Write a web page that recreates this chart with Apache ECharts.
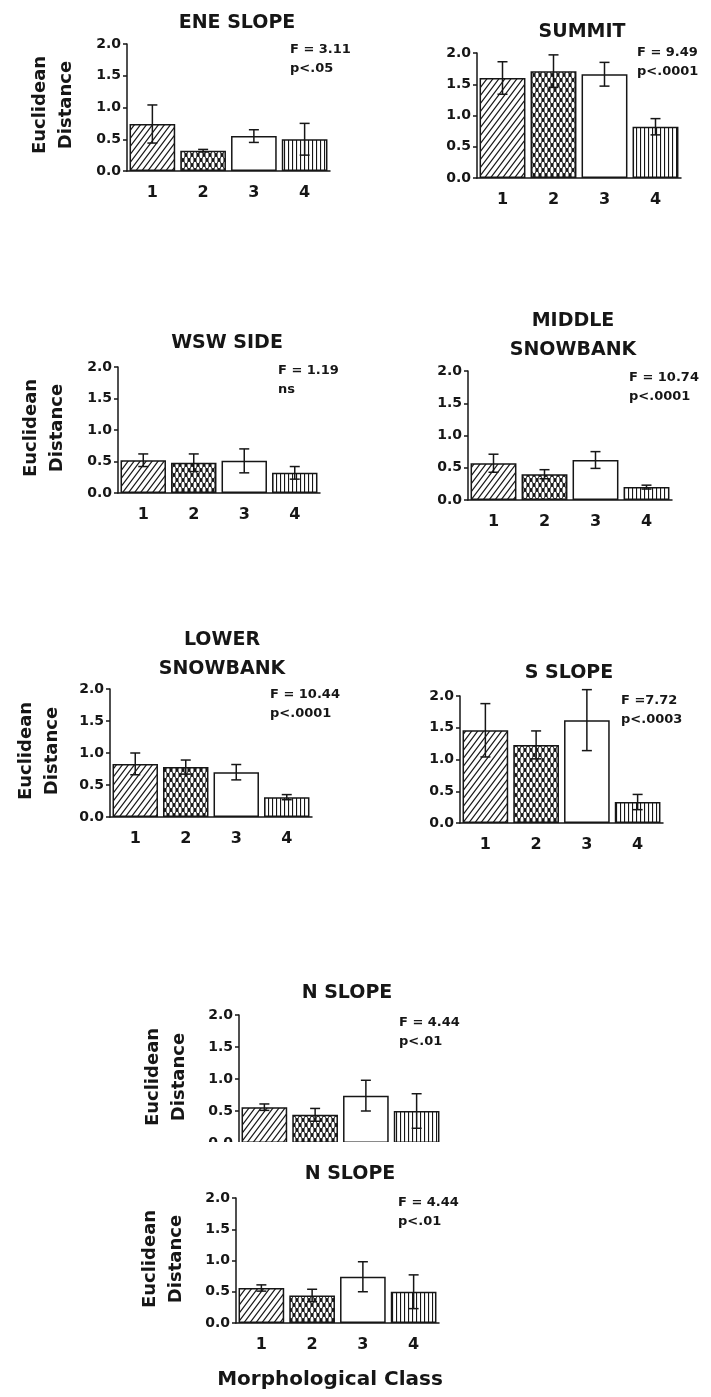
<!DOCTYPE html>
<html>
<head>
<meta charset="utf-8">
<script src="https://cdn.jsdelivr.net/npm/echarts@6/dist/echarts.min.js"></script>
<style>
html,body{margin:0;padding:0;background:#fff;}
#chart{width:711px;height:1397px;}
</style>
</head>
<body>
<div id="chart"></div>
<script>
// ---------------- DATA ----------------
const categories = ['1', '2', '3', '4'];
const yTickLabels = ['0.0', '0.5', '1.0', '1.5', '2.0'];
const panelTitles = ['ENE SLOPE', 'SUMMIT', 'WSW SIDE', 'MIDDLE\nSNOWBANK', 'LOWER\nSNOWBANK', 'S SLOPE', 'N SLOPE', 'N SLOPE'];
const fStats = ['F = 3.11', 'F = 9.49', 'F = 1.19', 'F = 10.74', 'F = 10.44', 'F =7.72', 'F = 4.44', 'F = 4.44'];
const pStats = ['p<.05', 'p<.0001', 'ns', 'p<.0001', 'p<.0001', 'p<.0003', 'p<.01', 'p<.01'];
const yAxisTitle = ['Euclidean', 'Distance'];
const xAxisTitle = 'Morphological Class';

const eneSlope = [0.74, 0.32, 0.55, 0.50];
const eneSlopeSE = [0.30, 0.02, 0.10, 0.25];
const summit = [1.60, 1.71, 1.66, 0.82];
const summitSE = [0.26, 0.26, 0.19, 0.13];
const wswSide = [0.52, 0.48, 0.51, 0.32];
const wswSideSE = [0.10, 0.14, 0.19, 0.10];
const middleSnowbank = [0.57, 0.40, 0.62, 0.20];
const middleSnowbankSE = [0.14, 0.07, 0.13, 0.03];
const lowerSnowbank = [0.83, 0.78, 0.70, 0.31];
const lowerSnowbankSE = [0.17, 0.11, 0.12, 0.04];
const sSlope = [1.46, 1.23, 1.62, 0.33];
const sSlopeSE = [0.42, 0.22, 0.48, 0.12];
const nSlope = [0.56, 0.44, 0.74, 0.50];
const nSlopeSE = [0.05, 0.10, 0.24, 0.27];

const panelValues = [eneSlope, summit, wswSide, middleSnowbank, lowerSnowbank, sSlope, nSlope, nSlope];
const panelErrors = [eneSlopeSE, summitSE, wswSideSE, middleSnowbankSE, lowerSnowbankSE, sSlopeSE, nSlopeSE, nSlopeSE];

// ---------------- LAYOUT (pixel positions / styles) ----------------
const layout = [
  {grid: [127, 44, 203, 127], title: [237, 23], stats: [290, 50], ylab: [40, 66, 105], xlab: true},
  {grid: [477, 53, 204, 125], title: [582, 32], stats: [637, 53], ylab: null, xlab: true},
  {grid: [118, 367, 202, 126], title: [227, 343], stats: [278, 371], ylab: [31, 57, 428], xlab: true},
  {grid: [468, 371, 204, 129], title: [573, 321], stats: [629, 378], ylab: null, xlab: true},
  {grid: [110, 689, 202, 128], title: [222, 640], stats: [270, 695], ylab: [26, 52, 751], xlab: true},
  {grid: [460, 696, 203, 127], title: [569, 673], stats: [621, 701], ylab: null, xlab: true},
  {grid: [239, 1015, 203, 128], title: [347, 993], stats: [399, 1023], ylab: [153, 179, 1077], xlab: false},
  {grid: [236, 1198, 203, 125], title: [350, 1174], stats: [398, 1203], ylab: [150, 176, 1259], xlab: true}
];

const FONT = '"DejaVu Sans", sans-serif';
const INK = '#161616';

function makeTile(w, h, draw) {
  const c = document.createElement('canvas');
  c.width = w; c.height = h;
  const g = c.getContext('2d');
  draw(g, w, h);
  return c;
}
const hatchTile = makeTile(6, 8, (g, w, h) => {
  g.fillStyle = '#fff'; g.fillRect(0, 0, w, h);
  g.strokeStyle = INK; g.lineWidth = 1.2;
  for (let k = -2; k <= 1; k++) {
    g.beginPath();
    g.moveTo(k * w - w, 2 * h);
    g.lineTo(k * w + 2 * w, -h);
    g.stroke();
  }
});
const latticeTile = makeTile(6, 10, (g, w, h) => {
  g.fillStyle = INK; g.fillRect(0, 0, w, h);
  g.fillStyle = '#fff';
  const holes = [[w / 2, h / 2], [0, 0], [w, 0], [0, h], [w, h]];
  holes.forEach(([cx, cy]) => {
    g.beginPath();
    g.ellipse(cx, cy, 1.5, 3.2, 0, 0, Math.PI * 2);
    g.fill();
  });
});
const vlineTile = makeTile(4, 4, (g, w, h) => {
  g.fillStyle = '#fff'; g.fillRect(0, 0, w, h);
  g.fillStyle = INK; g.fillRect(0, 0, 1.1, h);
});
const barFills = [
  {image: hatchTile, repeat: 'repeat'},
  {image: latticeTile, repeat: 'repeat'},
  '#ffffff',
  {image: vlineTile, repeat: 'repeat'}
];

// ---------------- OPTION ----------------
const grids = [], xAxes = [], yAxes = [], series = [], graphics = [];

layout.forEach((L, i) => {
  const [left, top, width, height] = L.grid;
  grids.push({left, top, width, height, containLabel: false});
  xAxes.push({
    type: 'category', gridIndex: i, data: categories,
    axisLine: {lineStyle: {color: INK, width: 1.5}},
    axisTick: {show: false},
    axisLabel: {show: L.xlab, color: INK, fontFamily: FONT, fontWeight: 'bold', fontSize: 16, margin: 14}
  });
  yAxes.push({
    type: 'value', gridIndex: i, min: 0, max: 2, interval: 0.5,
    splitLine: {show: false},
    axisLine: {show: true, lineStyle: {color: INK, width: 1.5}},
    axisTick: {show: true, length: 4, lineStyle: {color: INK, width: 1.5}},
    axisLabel: {
      color: INK, fontFamily: FONT, fontWeight: 'bold', fontSize: 14, margin: 6,
      formatter: v => yTickLabels[Math.round(v / 0.5)]
    }
  });
  series.push({
    type: 'bar', xAxisIndex: i, yAxisIndex: i, barWidth: '90%',
    data: panelValues[i].map((v, k) => ({
      value: v,
      itemStyle: {color: barFills[k], borderColor: INK, borderWidth: 1.5}
    })),
    silent: true, animation: false
  });
  series.push({
    type: 'custom', xAxisIndex: i, yAxisIndex: i, z: 5,
    data: panelValues[i].map((v, k) => [k, v, panelErrors[i][k]]),
    renderItem: function (params, api) {
      const x = api.value(0), v = api.value(1), e = api.value(2);
      const hi = api.coord([x, v + e]);
      const lo = api.coord([x, v - e]);
      const cap = 5;
      const st = {stroke: INK, lineWidth: 1.5};
      return {
        type: 'group', children: [
          {type: 'line', shape: {x1: hi[0], y1: hi[1], x2: lo[0], y2: lo[1]}, style: st},
          {type: 'line', shape: {x1: hi[0] - cap, y1: hi[1], x2: hi[0] + cap, y2: hi[1]}, style: st},
          {type: 'line', shape: {x1: lo[0] - cap, y1: lo[1], x2: lo[0] + cap, y2: lo[1]}, style: st}
        ]
      };
    },
    silent: true, animation: false
  });

  // panel title
  const tLines = panelTitles[i].split('\n');
  tLines.forEach((t, j) => {
    graphics.push({
      type: 'text', x: L.title[0], y: L.title[1] + j * 29, z: 50,
      style: {text: t, fill: INK, font: 'bold 19px ' + FONT, textAlign: 'center', textVerticalAlign: 'middle'}
    });
  });
  // stats
  graphics.push({
    type: 'text', x: L.stats[0], y: L.stats[1], z: 50,
    style: {text: fStats[i], fill: INK, font: 'bold 13px ' + FONT, textAlign: 'left', textVerticalAlign: 'middle'}
  });
  graphics.push({
    type: 'text', x: L.stats[0], y: L.stats[1] + 19, z: 50,
    style: {text: pStats[i], fill: INK, font: 'bold 13px ' + FONT, textAlign: 'left', textVerticalAlign: 'middle'}
  });
  // y axis title
  if (L.ylab) {
    yAxisTitle.forEach((t, j) => {
      graphics.push({
        type: 'text', x: L.ylab[j], y: L.ylab[2], rotation: Math.PI / 2, z: 50,
        style: {text: t, fill: INK, font: 'bold 18px ' + FONT, textAlign: 'center', textVerticalAlign: 'middle'}
      });
    });
  }
});

// mask cutting off the bottom of the duplicated N SLOPE panel
graphics.push({
  type: 'rect', z: 100,
  shape: {x: 120, y: 1142, width: 380, height: 20},
  style: {fill: '#ffffff'}
});
// overall x axis title
graphics.push({
  type: 'text', x: 330, y: 1380, z: 50,
  style: {text: xAxisTitle, fill: INK, font: 'bold 20px ' + FONT, textAlign: 'center', textVerticalAlign: 'middle'}
});

const chart = echarts.init(document.getElementById('chart'), null, {renderer: 'canvas'});
chart.setOption({
  backgroundColor: '#ffffff',
  animation: false,
  grid: grids,
  xAxis: xAxes,
  yAxis: yAxes,
  series: series,
  graphic: {elements: graphics}
});
</script>
</body>
</html>
